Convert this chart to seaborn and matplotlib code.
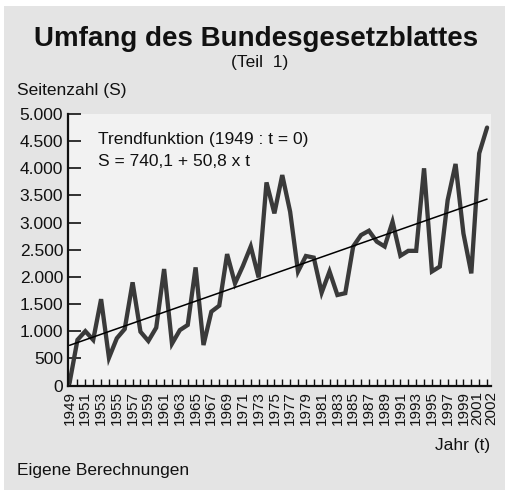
import matplotlib
matplotlib.use("Agg")
import matplotlib.pyplot as plt
from matplotlib.patches import Rectangle
from matplotlib.transforms import ScaledTranslation
import seaborn as sns
import pandas as pd

years = list(range(1949, 2003))
pages = [50, 840, 1000, 840, 1590, 510, 870, 1040, 1900, 990,
         820, 1065, 2145, 770, 1020, 1115, 2175, 745, 1360, 1470,
         2420, 1880, 2200, 2560, 1990, 3740, 3170, 3875, 3200, 2100,
         2385, 2355, 1710, 2100, 1667, 1700, 2560, 2770, 2850, 2650,
         2560, 3015, 2390, 2480, 2480, 4000, 2100, 2190, 3415, 4080,
         2800, 2065, 4275, 4750]
trend_a = 740.1
trend_b = 50.8
trend_t = [0, 53]
ytick_vals = [0, 500, 1000, 1500, 2000, 2500, 3000, 3500, 4000, 4500, 5000]
ytick_labels = ["0", "500", "1.000", "1.500", "2.000", "2.500", "3.000",
                "3.500", "4.000", "4.500", "5.000"]
xtick_labels = [str(y) if (y % 2 == 1 or y == 2002) else "" for y in years]

df = pd.DataFrame({"Jahr": years, "Seiten": pages})
trend_df = pd.DataFrame({"Jahr": [1949 + t for t in trend_t],
                         "Seiten": [trend_a + trend_b * t for t in trend_t]})

sns.set_style("ticks")
plt.rcParams["font.family"] = ["Liberation Sans", "DejaVu Sans"]

W, H = 505, 490
fig = plt.figure(figsize=(W / 100, H / 100), dpi=100, facecolor="white")
fig.add_artist(Rectangle((4 / W, 0), 1, 1 - 6 / H, transform=fig.transFigure,
                         facecolor="#e4e4e4", edgecolor="none", zorder=-10))

ax = fig.add_axes([68 / W, 1 - 385.5 / H, (491 - 68) / W, (385.5 - 114) / H])
ax.set_facecolor("#f2f2f2")

sns.lineplot(data=df, x="Jahr", y="Seiten", ax=ax, color="#3a3a3a",
             linewidth=3.1, solid_joinstyle="miter")
sns.lineplot(data=trend_df, x="Jahr", y="Seiten", ax=ax, color="black",
             linewidth=1.1)

ax.set_xlim(1948.8, 2002.5)
ax.set_ylim(0, 5000)
ax.set_yticks(ytick_vals)
ax.set_yticklabels(ytick_labels, fontsize=12.5, color="#111111")
ax.set_xticks(years)
ax.set_xticklabels(xtick_labels, rotation=90, fontsize=11, color="#111111")
ax.tick_params(axis="y", direction="in", length=9, width=1.2, pad=3.5,
               color="#111111")
ax.tick_params(axis="x", direction="in", length=5, width=1.0, pad=4,
               color="#111111")
shifts = {"2001": -1.8, "2002": 4.4}
for lbl in ax.get_xticklabels():
    lbl.set_va("top")
    if lbl.get_text() in shifts:
        lbl.set_transform(lbl.get_transform() +
                          ScaledTranslation(shifts[lbl.get_text()] / 100, 0,
                                            fig.dpi_scale_trans))
ax.set_xlabel("")
ax.set_ylabel("")
for s in ["top", "right"]:
    ax.spines[s].set_visible(False)
for s in ["left", "bottom"]:
    ax.spines[s].set_color("#111111")
    ax.spines[s].set_linewidth(1.6)

def fx(x):
    return x / W

def fy(y):
    return 1 - y / H

fig.text(fx(256), fy(46), "Umfang des Bundesgesetzblattes", ha="center",
         va="baseline", fontsize=20, fontweight="bold", color="#111111")
fig.text(fx(260), fy(62), "(Teil  1)", ha="center", va="center",
         fontsize=12.5, color="#111111")
fig.text(fx(17), fy(91), "Seitenzahl (S)", ha="left", va="center",
         fontsize=12.5, color="#111111")
fig.text(fx(490), fy(445), "Jahr (t)", ha="right", va="center",
         fontsize=12.5, color="#111111")
fig.text(fx(17), fy(470), "Eigene Berechnungen", ha="left", va="center",
         fontsize=12.5, color="#111111")
fig.text(fx(98), fy(139), "Trendfunktion (1949 : t = 0)", ha="left",
         va="center", fontsize=12.5, color="#111111")
fig.text(fx(98), fy(161), "S = 740,1 + 50,8 x t", ha="left",
         va="center", fontsize=12.5, color="#111111")

fig.savefig("out.png", dpi=100, facecolor="white")
